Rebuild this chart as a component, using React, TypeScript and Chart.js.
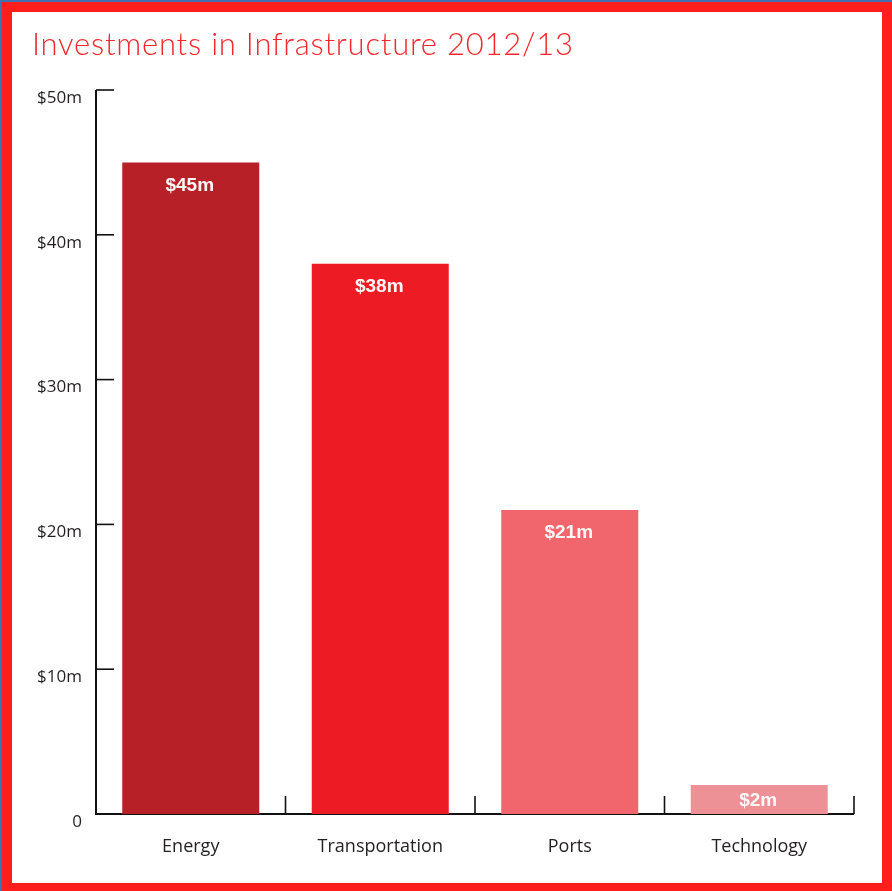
import React, { useEffect, useRef } from "react";
import { Chart, registerables } from "chart.js";

Chart.register(...registerables);

const categories = ["Energy", "Transportation", "Ports", "Technology"];
const values = [45, 38, 21, 2];
const valueLabels = ["$45m", "$38m", "$21m", "$2m"];
const barColors = ["#b82028", "#ed1c24", "#f0666c", "#ee9196"];
const yTicks = [0, 10, 20, 30, 40, 50];
const titleText = "Investments in Infrastructure 2012/13";

const titlePlugin = {
  id: "customTitle",
  afterDraw(chart: any) {
    const { ctx } = chart;
    ctx.save();
    ctx.font = "300 31px Lato, sans-serif";
    ctx.fillStyle = "#f2282d";
    ctx.textAlign = "left";
    ctx.textBaseline = "alphabetic";
    const target = 541;
    const w = ctx.measureText(titleText).width;
    const sp = (target - w) / (titleText.length - 1);
    if ("letterSpacing" in ctx) (ctx as any).letterSpacing = sp.toFixed(2) + "px";
    ctx.fillText(titleText, 20, 43);
    ctx.restore();
  },
};

const axisPlugin = {
  id: "customAxis",
  beforeDatasetsDraw(chart: any) {
    const { ctx, chartArea, scales } = chart;
    const x = scales.x;
    const y = scales.y;
    ctx.save();
    ctx.strokeStyle = "#111";
    ctx.lineWidth = 2;
    ctx.beginPath();
    ctx.moveTo(chartArea.left, chartArea.top);
    ctx.lineTo(chartArea.left, chartArea.bottom);
    ctx.lineTo(chartArea.right, chartArea.bottom);
    ctx.stroke();
    ctx.lineWidth = 1.6;
    yTicks.forEach((v) => {
      const py = y.getPixelForValue(v);
      ctx.beginPath();
      ctx.moveTo(chartArea.left, py);
      ctx.lineTo(chartArea.left + 18, py);
      ctx.stroke();
    });
    for (let i = 0; i < categories.length; i++) {
      const px = x.getPixelForValue(i + 0.5);
      ctx.beginPath();
      ctx.moveTo(px, chartArea.bottom);
      ctx.lineTo(px, chartArea.bottom - 18);
      ctx.stroke();
    }
    ctx.restore();
  },
};

const valueLabelPlugin = {
  id: "valueLabels",
  afterDatasetsDraw(chart: any) {
    const { ctx } = chart;
    const meta = chart.getDatasetMeta(0);
    ctx.save();
    ctx.fillStyle = "#fbf7f7";
    ctx.font = "bold 19px 'Liberation Sans', Arial, sans-serif";
    ctx.textAlign = "center";
    ctx.textBaseline = "middle";
    meta.data.forEach((el: any, i: number) => {
      const yy = Math.min(el.y + 23, (el.y + el.base) / 2 + 1);
      ctx.fillText(valueLabels[i], el.x - 1, yy);
    });
    ctx.restore();
  },
};

export default function App() {
  const ref = useRef<HTMLCanvasElement>(null);
  useEffect(() => {
    if (!ref.current) return;
    const chart = new Chart(ref.current, {
      type: "bar",
      data: {
        labels: categories,
        datasets: [
          {
            data: values,
            backgroundColor: barColors,
            borderWidth: 0,
            barPercentage: 0.723,
            categoryPercentage: 1,
          },
        ],
      },
      options: {
        responsive: false,
        animation: false,
        layout: { padding: { left: 20, right: 28, top: 78, bottom: 0 } },
        plugins: {
          legend: { display: false },
          tooltip: { enabled: false },
          title: { display: false },
        },
        scales: {
          x: {
            grid: { display: false, drawTicks: false },
            border: { display: false },
            ticks: {
              color: "#231f20",
              font: { family: "'Open Sans'", size: 18 },
              padding: 22,
            },
            afterFit(scale: any) {
              scale.height = 69;
            },
          },
          y: {
            min: 0,
            max: 50,
            grid: { display: false, drawTicks: false },
            border: { display: false },
            ticks: {
              stepSize: 10,
              color: "#231f20",
              font: { family: "'Open Sans'", size: 17 },
              padding: 14,
              labelOffset: 8,
              callback: (v: any) => (v === 0 ? "0" : "$" + v + "m"),
            },
            afterFit(scale: any) {
              scale.width = 64;
            },
          },
        },
      },
      plugins: [axisPlugin, valueLabelPlugin, titlePlugin],
    });
    return () => chart.destroy();
  }, []);

  return (
    <div
      style={{
        position: "fixed",
        left: 0,
        top: 0,
        width: 892,
        height: 891,
        boxSizing: "border-box",
        background: "#fe1f1c",
        borderTop: "2px solid #3f70b4",
        borderLeft: "2px solid #3f70b4",
      }}
    >
      <canvas
        ref={ref}
        width={870}
        height={871}
        style={{ position: "absolute", left: 10, top: 10, background: "#ffffff", display: "block" }}
      />
    </div>
  );
}
